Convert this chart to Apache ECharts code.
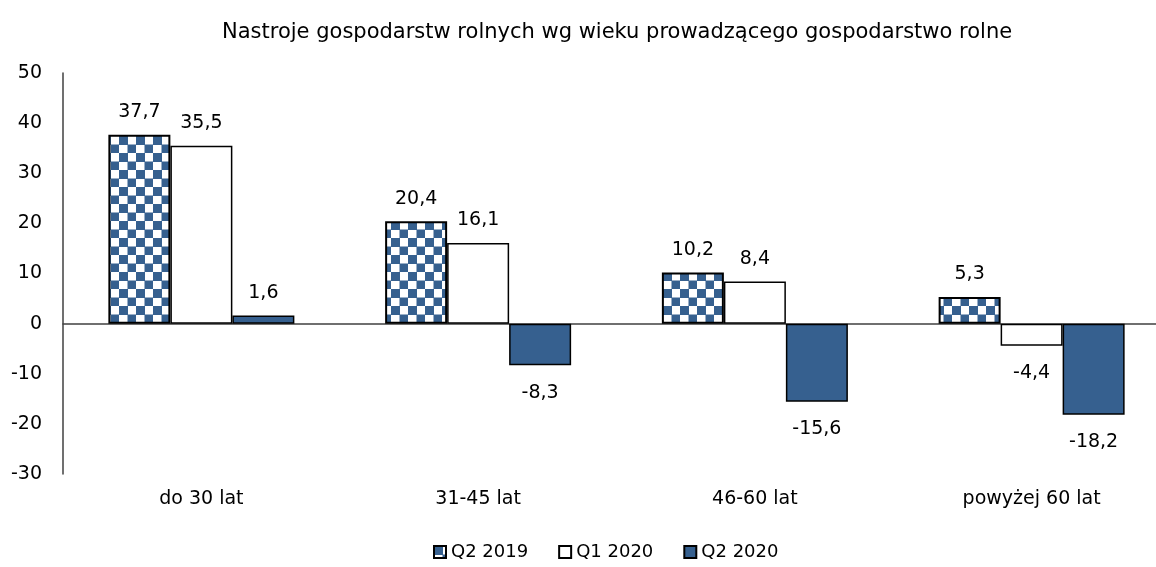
<!DOCTYPE html>
<html><head><meta charset="utf-8">
<script src="https://cdn.jsdelivr.net/npm/echarts@6/dist/echarts.min.js"></script>
<style>html,body{margin:0;padding:0;background:#fff}#c{width:1156px;height:567px}</style>
</head><body><div id="c"></div>
<script>
const categories = ['do 30 lat', '31-45 lat', '46-60 lat', 'powyżej 60 lat'];
const seriesNames = ['Q2 2019', 'Q1 2020', 'Q2 2020'];
const q2_2019 = [37.7, 20.4, 10.2, 5.3];
const q1_2020 = [35.5, 16.1, 8.4, -4.4];
const q2_2020 = [1.6, -8.3, -15.6, -18.2];
const yTicks = { min: -30, max: 50, interval: 10 };
const titleText = 'Nastroje gospodarstw rolnych wg wieku prowadzącego gospodarstwo rolne';

const BLUE = '#36608F';
const FONT = 'DejaVu Sans';

const pc = document.createElement('canvas');
pc.width = 17; pc.height = 17;
const g = pc.getContext('2d');
g.fillStyle = '#fff'; g.fillRect(0, 0, 17, 17);
g.fillStyle = BLUE;
g.fillRect(0, 0, 9, 9);
g.fillRect(8.5, 8.5, 9, 9);

const fmt = v => String(v).replace('.', ',');
function mk(name, data, style) {
  return {
    name, type: 'bar', data: data.map(v => ({
      value: v,
      label: { position: v >= 0 ? 'top' : 'bottom', distance: v >= 0 ? 13 : 18 }
    })),
    barWidth: 62, barGap: '0%',
    itemStyle: style,
    label: {
      show: true, formatter: p => fmt(p.value),
      fontFamily: FONT, fontSize: 19, color: '#000'
    },
    xAxisIndex: 0
  };
}

const chart = echarts.init(document.getElementById('c'), null, { renderer: 'canvas' });
chart.setOption({
  animation: false,
  backgroundColor: '#fff',
  title: {
    text: titleText, left: 217, top: 17,
    textStyle: { fontFamily: FONT, fontSize: 21, fontWeight: 'normal', color: '#000' }
  },
  legend: {
    bottom: 1, left: 428, itemWidth: 12, itemHeight: 12, itemGap: 30,
    icon: 'rect',
    textStyle: { fontFamily: FONT, fontSize: 18, color: '#000' },
    data: seriesNames
  },
  grid: { left: 63, top: 73, width: 1107, height: 401, containLabel: false, outerBoundsMode: 'none' },
  xAxis: [
    {
      type: 'category', data: categories, position: 'bottom',
      axisLine: { show: false, onZero: false }, axisTick: { show: false },
      axisLabel: { fontFamily: FONT, fontSize: 19, color: '#000', margin: 16 }
    },
    {
      type: 'category', data: categories,
      axisLine: { show: true, onZero: true, lineStyle: { color: '#404040', width: 1.5 } },
      axisTick: { show: false }, axisLabel: { show: false }
    }
  ],
  yAxis: {
    type: 'value', min: yTicks.min, max: yTicks.max, interval: yTicks.interval,
    splitLine: { show: false },
    axisLine: { show: true, lineStyle: { color: '#404040', width: 1.5 } },
    axisTick: { show: false },
    axisLabel: { fontFamily: FONT, fontSize: 19, color: '#000', margin: 21 }
  },
  series: [
    mk(seriesNames[0], q2_2019, { color: { image: pc, repeat: 'repeat' }, borderColor: '#000', borderWidth: 2 }),
    mk(seriesNames[1], q1_2020, { color: '#fff', borderColor: '#000', borderWidth: 1.5 }),
    mk(seriesNames[2], q2_2020, { color: BLUE, borderColor: '#000', borderWidth: 1.5 })
  ]
});
</script></body></html>
